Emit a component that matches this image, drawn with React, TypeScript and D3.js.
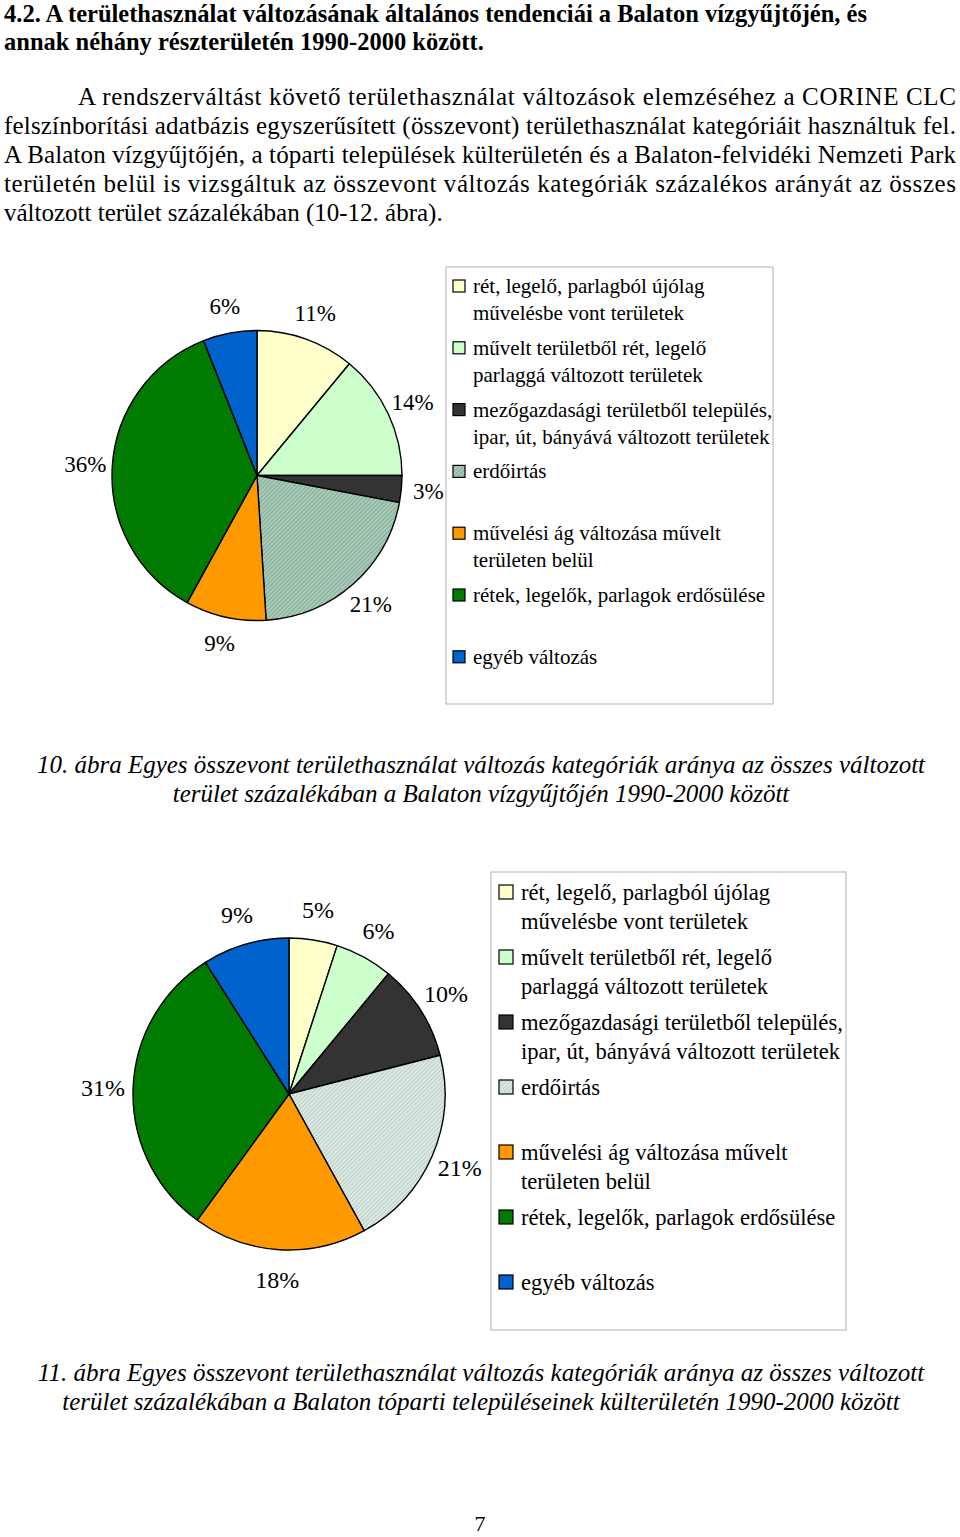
import React from "react";
import * as d3 from "d3";

const categories = [
  "rét, legelő, parlagból újólag művelésbe vont területek",
  "művelt területből rét, legelő parlaggá változott területek",
  "mezőgazdasági területből település, ipar, út, bányává változott területek",
  "erdőirtás",
  "művelési ág változása művelt területen belül",
  "rétek, legelők, parlagok erdősülése",
  "egyéb változás",
];
const legendLines = [
  ["rét, legelő, parlagból újólag", "művelésbe vont területek"],
  ["művelt területből rét, legelő", "parlaggá változott területek"],
  ["mezőgazdasági területből település,", "ipar, út, bányává változott területek"],
  ["erdőirtás"],
  ["művelési ág változása művelt", "területen belül"],
  ["rétek, legelők, parlagok erdősülése"],
  ["egyéb változás"],
];
const valuesFig10 = [11, 14, 3, 21, 9, 36, 6];
const valuesFig11 = [5, 6, 10, 21, 18, 31, 9];

const colors = ["#ffffcc", "#ccffcc", "#333333", "HATCH", "#ff9900", "#007a00", "#0062cc"];

const titleLines = [
  "4.2. A területhasználat változásának általános tendenciái a Balaton vízgyűjtőjén, és",
  "annak néhány részterületén 1990-2000 között.",
];
const paraLines = [
  "A rendszerváltást követő területhasználat változások elemzéséhez a CORINE CLC",
  "felszínborítási adatbázis egyszerűsített (összevont) területhasználat kategóriáit használtuk fel.",
  "A Balaton vízgyűjtőjén, a tóparti települések külterületén és a Balaton-felvidéki Nemzeti Park",
  "területén belül is vizsgáltuk az összevont változás kategóriák százalékos arányát az összes",
  "változott terület százalékában (10-12. ábra).",
];
const caption10 = [
  "10. ábra Egyes összevont területhasználat változás kategóriák aránya az összes változott",
  "terület százalékában a Balaton vízgyűjtőjén 1990-2000 között",
];
const caption11 = [
  "11. ábra  Egyes összevont területhasználat változás kategóriák aránya az összes változott",
  "terület százalékában a Balaton tóparti településeinek külterületén 1990-2000 között",
];

const FONT = "'Liberation Serif', 'Times New Roman', serif";

type PieProps = {
  values: number[];
  cx: number;
  cy: number;
  r: number;
  labelR: number;
  fontSize: number;
  hatchId: string;
};

function Pie({ values, cx, cy, r, labelR, fontSize, hatchId }: PieProps) {
  const pie = d3.pie<number>().sort(null).value((d) => d);
  const arcs = pie(values);
  const arc = d3.arc<d3.PieArcDatum<number>>().innerRadius(0).outerRadius(r);
  const labelArc = d3.arc<d3.PieArcDatum<number>>().innerRadius(labelR).outerRadius(labelR);
  return (
    <g transform={`translate(${cx},${cy})`}>
      {arcs.map((a, i) => (
        <path
          key={i}
          d={arc(a) || ""}
          fill={colors[i] === "HATCH" ? `url(#${hatchId})` : colors[i]}
          stroke="#000"
          strokeWidth={1.4}
          strokeLinejoin="round"
        />
      ))}
      {arcs.map((a, i) => {
        const [x, y] = labelArc.centroid(a);
        return (
          <text
            key={"l" + i}
            x={x}
            y={y}
            textAnchor="middle"
            dominantBaseline="central"
            fontFamily={FONT}
            fontSize={fontSize}
            fill="#000"
          >
            {values[i]}%
          </text>
        );
      })}
    </g>
  );
}

type LegendProps = {
  x0: number;
  y0: number;
  x1: number;
  y1: number;
  sqX: number;
  sq: number;
  textX: number;
  rowY: number;
  rowStep: number;
  lineStep: number;
  fontSize: number;
  hatchId: string;
};

function Legend(p: LegendProps) {
  return (
    <g>
      <rect x={p.x0} y={p.y0} width={p.x1 - p.x0} height={p.y1 - p.y0} fill="#fff" stroke="#bdbdbd" strokeWidth={1.2} />
      {categories.map((c, i) => {
        const cy = p.rowY + i * p.rowStep;
        return (
          <g key={i}>
            <rect
              x={p.sqX}
              y={cy - p.sq / 2}
              width={p.sq}
              height={p.sq}
              fill={colors[i] === "HATCH" ? `url(#${p.hatchId})` : colors[i]}
              stroke="#000"
              strokeWidth={1.2}
            />
            {legendLines[i].map((ln, j) => (
              <text
                key={j}
                x={p.textX}
                y={cy + j * p.lineStep}
                dominantBaseline="central"
                fontFamily={FONT}
                fontSize={p.fontSize}
                fill="#000"
              >
                {ln}
              </text>
            ))}
          </g>
        );
      })}
    </g>
  );
}

export default function App() {
  return (
    <svg
      width={960}
      height={1537}
      style={{ position: "absolute", left: 0, top: 0, background: "#fff" }}
      xmlns="http://www.w3.org/2000/svg"
    >
      <defs>
        <pattern id="hatch1" patternUnits="userSpaceOnUse" width={3} height={3} patternTransform="rotate(45)">
          <rect width={3} height={3} fill="#a8ccb8" />
          <line x1={0} y1={0} x2={0} y2={3} stroke="#6e9480" strokeWidth={1.2} />
        </pattern>
        <pattern id="hatch2" patternUnits="userSpaceOnUse" width={3} height={3} patternTransform="rotate(45)">
          <rect width={3} height={3} fill="#dbe8e3" />
          <line x1={0} y1={0} x2={0} y2={3} stroke="#a3b8b0" strokeWidth={1.1} />
        </pattern>
      </defs>
      <rect width={960} height={1537} fill="#fff" />

      {titleLines.map((t, i) => (
        <text key={i} x={4} y={22 + i * 28} fontFamily={FONT} fontWeight="bold" fontSize={24.5} fill="#000">
          {t}
        </text>
      ))}

      {paraLines.map((t, i) => {
        const x = i === 0 ? 78 : 4;
        const justify = i < 4;
        return (
          <text
            key={i}
            x={x}
            y={105 + i * 29}
            fontFamily={FONT}
            fontSize={25}
            fill="#000"
            {...(justify ? { textLength: 956 - x, lengthAdjust: "spacing" } : {})}
          >
            {t}
          </text>
        );
      })}

      <Pie values={valuesFig10} cx={257} cy={475.5} r={145} labelR={172} fontSize={23} hatchId="hatch1" />
      <Legend
        x0={446} y0={267} x1={773} y1={704}
        sqX={453} sq={12} textX={473}
        rowY={286} rowStep={61.8} lineStep={27}
        fontSize={21} hatchId="hatch1"
      />

      {caption10.map((t, i) => (
        <text key={i} x={481} y={773 + i * 29} textAnchor="middle" fontFamily={FONT} fontStyle="italic" fontSize={25} fill="#000">
          {t}
        </text>
      ))}

      <Pie values={valuesFig11} cx={289} cy={1094} r={156} labelR={186} fontSize={24} hatchId="hatch2" />
      <Legend
        x0={491} y0={872} x1={846} y1={1330}
        sqX={499} sq={14} textX={521}
        rowY={892} rowStep={65} lineStep={29}
        fontSize={22.6} hatchId="hatch2"
      />

      {caption11.map((t, i) => (
        <text key={i} x={481} y={1381 + i * 29} textAnchor="middle" fontFamily={FONT} fontStyle="italic" fontSize={25} fill="#000">
          {t}
        </text>
      ))}

      <text x={480} y={1531} textAnchor="middle" fontFamily={FONT} fontSize={22} fill="#000">
        7
      </text>
    </svg>
  );
}
